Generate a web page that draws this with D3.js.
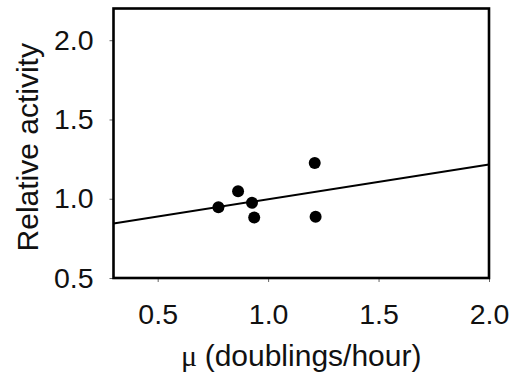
<!DOCTYPE html>
<html>
<head>
<meta charset="utf-8">
<script src="https://cdn.jsdelivr.net/npm/d3@7"></script>
<style>
  html, body { margin: 0; padding: 0; background: #fff; }
  svg { display: block; }
</style>
</head>
<body>
<svg id="viz" width="516" height="385"></svg>
<script>
// Growth rate (doublings/hour) and relative activity of each sample
const growthRate = [0.775, 0.864, 0.927, 0.937, 1.211, 1.215];
const relActivity = [0.947, 1.047, 0.974, 0.882, 1.225, 0.886];

// Fitted line, end points at the axis limits
const fitX = [0.3, 2.0];
const fitY = [0.844, 1.216];

const xTicks = [0.5, 1.0, 1.5, 2.0];
const yTicks = [0.5, 1.0, 1.5, 2.0];

const xLabel = "(doublings/hour)";
const yLabel = "Relative activity";

(function () {
  "use strict";

  /*
  |--------------------------------------------------------------------------
  | Layout settings
  |--------------------------------------------------------------------------
  */

  let margin = { top: 8.5, left: 113.5, right: 27, bottom: 107 };
  let width = 516 - margin.left - margin.right;
  let height = 385 - margin.top - margin.bottom;

  let font = "'Liberation Sans', Arial, sans-serif";

  /*
  |--------------------------------------------------------------------------
  | Scales
  |--------------------------------------------------------------------------
  */

  let x = d3.scaleLinear().domain([0.3, 2.0]).range([0, width]);
  let y = d3.scaleLinear().domain([0.5, 2.2]).range([height, 0]);

  let svg = d3.select("#viz");
  let g = svg.append("g")
    .attr("transform", `translate(${margin.left} ${margin.top})`);

  /*
  |--------------------------------------------------------------------------
  | Axes
  |--------------------------------------------------------------------------
  */

  let xAxis = g.append("g")
    .attr("transform", `translate(0,${height})`)
    .call(d3.axisBottom(x).tickValues(xTicks).tickFormat(d3.format(".1f"))
      .tickSize(4).tickPadding(22));

  let yAxis = g.append("g")
    .call(d3.axisLeft(y).tickValues(yTicks).tickFormat(d3.format(".1f"))
      .tickSize(4).tickPadding(16));

  [xAxis, yAxis].forEach(a => {
    a.select(".domain").remove();
    a.selectAll(".tick line").attr("stroke", "#666").attr("stroke-width", 1);
    a.selectAll(".tick text")
      .attr("fill", "#111")
      .style("font-family", font)
      .style("font-size", "28.5px");
  });

  // frame
  g.append("rect")
    .attr("x", 0)
    .attr("y", 0)
    .attr("width", width)
    .attr("height", height)
    .attr("fill", "none")
    .attr("stroke", "#000")
    .attr("stroke-width", 2.6);

  /*
  |--------------------------------------------------------------------------
  | Fit line and points
  |--------------------------------------------------------------------------
  */

  let line = d3.line()
    .x(d => x(d[0]))
    .y(d => y(d[1]));

  g.append("path")
    .datum(fitX.map((v, i) => [v, fitY[i]]))
    .attr("d", line)
    .attr("fill", "none")
    .attr("stroke", "#000")
    .attr("stroke-width", 2);

  g.selectAll(".dot")
    .data(growthRate.map((v, i) => ({ x: v, y: relActivity[i] })))
    .enter()
    .append("circle")
    .attr("class", "dot")
    .attr("cx", d => x(d.x))
    .attr("cy", d => y(d.y))
    .attr("r", 6)
    .attr("fill", "#000");

  /*
  |--------------------------------------------------------------------------
  | Axis titles
  |--------------------------------------------------------------------------
  */

  let xt = g.append("text")
    .attr("x", width / 2)
    .attr("y", 366 - margin.top)
    .attr("text-anchor", "middle")
    .attr("fill", "#111")
    .style("font-family", font)
    .style("font-size", "30px");

  xt.append("tspan")
    .style("font-family", "'Liberation Serif', 'Times New Roman', serif")
    .text("\u03bc ");
  xt.append("tspan").text(xLabel);

  g.append("text")
    .attr("transform", `translate(${38 - margin.left},${height / 2 + 4}) rotate(-90)`)
    .attr("text-anchor", "middle")
    .attr("fill", "#111")
    .style("font-family", font)
    .style("font-size", "30px")
    .text(yLabel);

})();
</script>
</body>
</html>
